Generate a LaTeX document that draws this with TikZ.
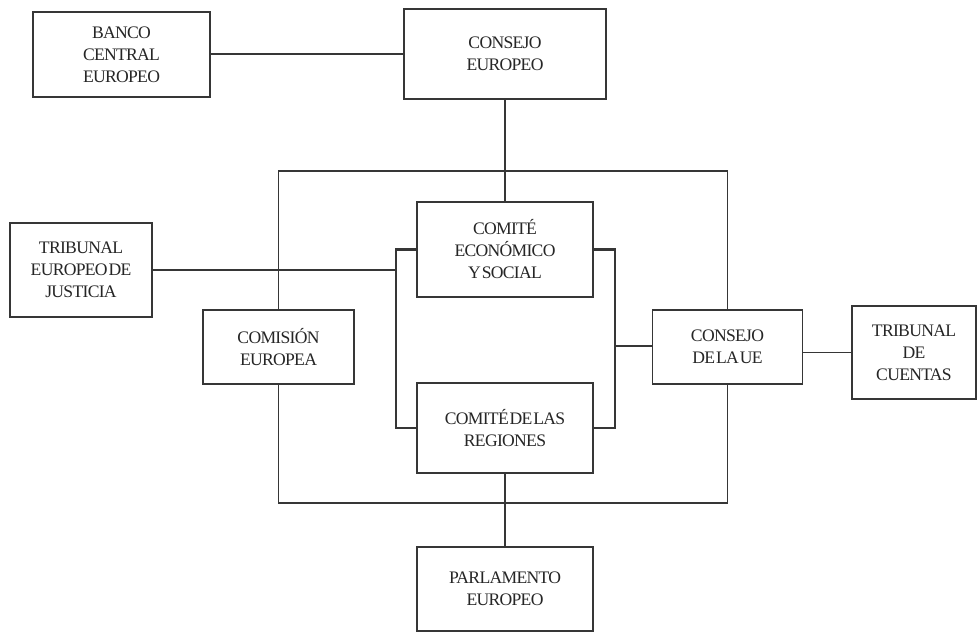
\documentclass[tikz,border=0pt]{standalone}
\usepackage{fontspec}
\setmainfont{Liberation Serif}[WordSpace=0.25,LetterSpace=-4]
\definecolor{ln}{HTML}{363636}
\begin{document}
\begin{tikzpicture}[x=1pt,y=-1pt,
  box/.style={draw=ln,line width=1.8pt,fill=white,inner sep=0pt,align=center,
    font=\fontsize{17.6}{22}\selectfont,text=black!85},
  conn/.style={draw=ln,line width=1.8pt},
  brk/.style={draw=ln,line width=2.6pt}]
\useasboundingbox (0,0) rectangle (980,633);
% outer frame
\node[draw=ln,line width=1.8pt,minimum width=449pt,minimum height=332pt,inner sep=0pt] (frame) at (503,337) {};
% boxes
\node[box,minimum width=177pt,minimum height=85pt] (banco) at (121.5,54.5) {BANCO\\CENTRAL\\EUROPEO};
\node[box,minimum width=202pt,minimum height=90pt] (ceuro) at (505,54) {CONSEJO\\EUROPEO};
\node[box,minimum width=142pt,minimum height=94pt] (tjue) at (81,270) {TRIBUNAL\\EUROPEO DE\\JUSTICIA};
\node[box,minimum width=176pt,minimum height=95pt] (ces) at (505,249.5) {COMITÉ\\ECONÓMICO\\Y SOCIAL};
\node[box,minimum width=176pt,minimum height=90pt] (cdr) at (505,428) {COMITÉ DE LAS\\REGIONES};
\node[box,minimum width=151pt,minimum height=74pt] (com) at (278.5,347) {COMISIÓN\\EUROPEA};
\node[box,minimum width=150pt,minimum height=74pt] (cue) at (727.5,347) {CONSEJO\\DE LA UE};
\node[box,minimum width=124pt,minimum height=93pt] (tdc) at (914,352.5) {TRIBUNAL\\DE\\CUENTAS};
\node[box,minimum width=176pt,minimum height=84pt] (parl) at (505,589) {PARLAMENTO\\EUROPEO};
% bracket coordinates
\coordinate (lb) at (396,270);
\coordinate (rb) at (615,346);
% connectors
\draw[conn] (banco.east |- ceuro.west) -- (ceuro.west);
\draw[conn] (ceuro.south) -- (ces.north);
\draw[conn] (cdr.south) -- (parl.north);
\draw[conn] (tjue.east) -- (lb);
\draw[conn] (cue.west |- rb) -- (rb);
\draw[conn] (cue.east |- tdc.west) -- (tdc.west);
\draw[brk] (ces.west) -| (lb) |- (cdr.west);
\draw[brk] (ces.east) -| (rb) |- (cdr.east);
\end{tikzpicture}
\end{document}
